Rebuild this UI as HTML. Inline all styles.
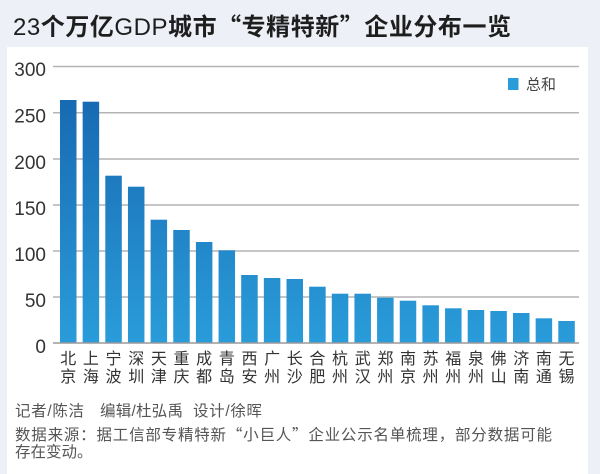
<!DOCTYPE html>
<html><head><meta charset="utf-8"><style>
html,body{margin:0;padding:0;}
body{width:600px;height:474px;overflow:hidden;background:#eef0f7;}
svg{display:block;}
</style></head><body>
<svg width="600" height="474" viewBox="0 0 600 474" xmlns="http://www.w3.org/2000/svg" font-family="'Liberation Sans','Noto Sans CJK SC',sans-serif">
<defs>
<linearGradient id="g" gradientUnits="userSpaceOnUse" x1="0" y1="66" x2="0" y2="343">
<stop offset="0" stop-color="#1563ac"/>
<stop offset="1" stop-color="#2a9cda"/>
</linearGradient>
</defs>
<rect x="0" y="0" width="600" height="474" fill="#eef0f7"/>
<rect x="7" y="47" width="581" height="427" fill="#ffffff"/>
<text x="13" y="35" font-size="24" fill="#1e1e1e" textLength="498" lengthAdjust="spacing">23<tspan font-weight="bold">个万亿</tspan>GDP<tspan font-weight="bold">城市</tspan><tspan font-family="'Noto Sans CJK SC',sans-serif" font-weight="bold">“</tspan><tspan font-weight="bold">专精特新</tspan><tspan font-family="'Noto Sans CJK SC',sans-serif" font-weight="bold">”</tspan><tspan font-weight="bold">企业分布一览</tspan></text>
<g stroke="#b4b4b4" stroke-width="1.5">
<line x1="53" x2="579" y1="66.5" y2="66.5"/>
<line x1="53" x2="579" y1="112.7" y2="112.7"/>
<line x1="53" x2="579" y1="159" y2="159"/>
<line x1="53" x2="579" y1="205" y2="205"/>
<line x1="53" x2="579" y1="251" y2="251"/>
<line x1="53" x2="579" y1="297" y2="297"/>
</g>
<g font-size="19" fill="#333" text-anchor="end">
<text x="46" y="76">300</text>
<text x="46" y="122.7">250</text>
<text x="46" y="169">200</text>
<text x="46" y="215">150</text>
<text x="46" y="261">100</text>
<text x="46" y="307">50</text>
<text x="46" y="353">0</text>
</g>
<g fill="url(#g)">
<rect x="60" y="100" width="16.5" height="243"/>
<rect x="82.65" y="101.7" width="16.5" height="241.3"/>
<rect x="105.3" y="175.7" width="16.5" height="167.3"/>
<rect x="127.95" y="186.7" width="16.5" height="156.3"/>
<rect x="150.6" y="219.7" width="16.5" height="123.3"/>
<rect x="173.25" y="230" width="16.5" height="113"/>
<rect x="195.9" y="242" width="16.5" height="101"/>
<rect x="218.55" y="250.3" width="16.5" height="92.7"/>
<rect x="241.2" y="275" width="16.5" height="68"/>
<rect x="263.85" y="278" width="16.5" height="65"/>
<rect x="286.5" y="279" width="16.5" height="64"/>
<rect x="309.15" y="286.7" width="16.5" height="56.3"/>
<rect x="331.8" y="293.7" width="16.5" height="49.3"/>
<rect x="354.45" y="293.7" width="16.5" height="49.3"/>
<rect x="377.1" y="297.7" width="16.5" height="45.3"/>
<rect x="399.75" y="300.7" width="16.5" height="42.3"/>
<rect x="422.4" y="305.3" width="16.5" height="37.7"/>
<rect x="445.05" y="308.3" width="16.5" height="34.7"/>
<rect x="467.7" y="310" width="16.5" height="33"/>
<rect x="490.35" y="311" width="16.5" height="32"/>
<rect x="513" y="313" width="16.5" height="30"/>
<rect x="535.65" y="318.3" width="16.5" height="24.7"/>
<rect x="558.3" y="321" width="16.5" height="22"/>
</g>
<line x1="53" x2="579" y1="343" y2="343" stroke="#9a9a9a" stroke-width="1.5"/>
<rect x="508" y="78" width="10.5" height="12" fill="#2a9cda"/>
<text x="526" y="89.5" font-size="15" fill="#444">总和</text>
<g font-size="16" fill="#333" text-anchor="middle">
<text x="68.25" y="364">北</text><text x="68.25" y="382">京</text>
<text x="90.9" y="364">上</text><text x="90.9" y="382">海</text>
<text x="113.55" y="364">宁</text><text x="113.55" y="382">波</text>
<text x="136.2" y="364">深</text><text x="136.2" y="382">圳</text>
<text x="158.85" y="364">天</text><text x="158.85" y="382">津</text>
<text x="181.5" y="364">重</text><text x="181.5" y="382">庆</text>
<text x="204.15" y="364">成</text><text x="204.15" y="382">都</text>
<text x="226.8" y="364">青</text><text x="226.8" y="382">岛</text>
<text x="249.45" y="364">西</text><text x="249.45" y="382">安</text>
<text x="272.1" y="364">广</text><text x="272.1" y="382">州</text>
<text x="294.75" y="364">长</text><text x="294.75" y="382">沙</text>
<text x="317.4" y="364">合</text><text x="317.4" y="382">肥</text>
<text x="340.05" y="364">杭</text><text x="340.05" y="382">州</text>
<text x="362.7" y="364">武</text><text x="362.7" y="382">汉</text>
<text x="385.35" y="364">郑</text><text x="385.35" y="382">州</text>
<text x="408" y="364">南</text><text x="408" y="382">京</text>
<text x="430.65" y="364">苏</text><text x="430.65" y="382">州</text>
<text x="453.3" y="364">福</text><text x="453.3" y="382">州</text>
<text x="475.95" y="364">泉</text><text x="475.95" y="382">州</text>
<text x="498.6" y="364">佛</text><text x="498.6" y="382">山</text>
<text x="521.25" y="364">济</text><text x="521.25" y="382">南</text>
<text x="543.9" y="364">南</text><text x="543.9" y="382">通</text>
<text x="566.55" y="364">无</text><text x="566.55" y="382">锡</text>
</g>
<g font-size="15.5" fill="#555">
<text x="15" y="416" textLength="69" lengthAdjust="spacing">记者/陈洁</text>
<text x="100" y="416" textLength="83" lengthAdjust="spacing">编辑/杜弘禹</text>
<text x="193" y="416" textLength="69" lengthAdjust="spacing">设计/徐晖</text>
<text x="15" y="440" textLength="537" lengthAdjust="spacing">数据来源：据工信部专精特新<tspan font-family="'Noto Sans CJK SC',sans-serif">“</tspan>小巨人<tspan font-family="'Noto Sans CJK SC',sans-serif">”</tspan>企业公示名单梳理，部分数据可能</text>
<text x="15" y="457">存在变动。</text>
</g>
</svg>
</body></html>
